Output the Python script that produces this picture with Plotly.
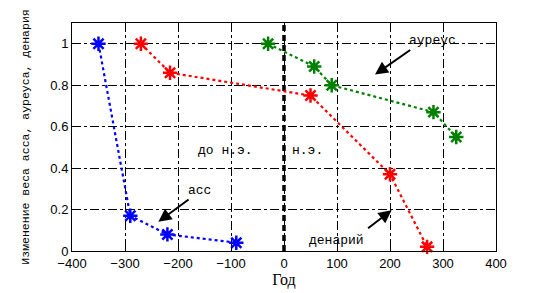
import plotly.graph_objects as go

# Data
as_years = [-350, -290, -220, -90]
as_vals = [1.0, 0.17, 0.08, 0.04]
den_years = [-270, -215, 50, 200, 270]
den_vals = [1.0, 0.86, 0.75, 0.37, 0.02]
aur_years = [-30, 57, 90, 282, 325]
aur_vals = [1.0, 0.89, 0.80, 0.67, 0.55]
era_x = [0, 0]
era_y = [0, 1.1]
x_ticks = [-400, -300, -200, -100, 0, 100, 200, 300, 400]
y_ticks = [0, 0.2, 0.4, 0.6, 0.8, 1.0]
y_ticklabels = ["0", "0.2", "0.4", "0.6", "0.8", "1"]

fig = go.Figure()

def series(x, y, color):
    fig.add_trace(go.Scatter(
        x=x, y=y, mode="lines+markers",
        line=dict(color=color, width=2.2, dash="dot"),
        marker=dict(symbol="asterisk-open", size=12, color=color,
                    line=dict(color=color, width=2.5)),
        showlegend=False, cliponaxis=False))

fig.add_trace(go.Scatter(x=era_x, y=era_y, mode="lines",
                         line=dict(color="black", width=3.5, dash="6px,4px"),
                         showlegend=False))
series(as_years, as_vals, "#0000ff")
series(den_years, den_vals, "#ff0000")
series(aur_years, aur_vals, "#008000")

txtfont = dict(family="Liberation Mono, DejaVu Sans Mono, monospace", size=13, color="black")

def arrow(x, y, ax, ay):
    fig.add_annotation(x=x, y=y, xref="x", yref="y", ax=ax, ay=ay,
                       axref="pixel", ayref="pixel", text="", showarrow=True,
                       arrowhead=2, arrowsize=1.3, arrowwidth=2, arrowcolor="black")

arrow(171.7, 0.851, 36.7, -25.7)
arrow(-237, 0.141, 31.7, -23.4)
arrow(203, 0.197, -25, 19.3)

def label(x, y, t):
    fig.add_annotation(x=x, y=y, xref="x", yref="y", text=t, showarrow=False, font=txtfont)

label(281, 1.014, "ауреус")
label(-158.5, 0.29, "асс")
label(99, 0.053, "денарий")
label(-111, 0.485, "до н.э.")
label(44, 0.485, "н.э.")

axis_common = dict(showline=True, linecolor="black", linewidth=1, mirror=True,
                   showgrid=True, gridcolor="black", gridwidth=1, griddash="dashdot",
                   zeroline=False, ticks="inside", ticklen=4, tickcolor="black",
                   automargin=False,
                   tickfont=dict(family="Liberation Sans, Arial, sans-serif", size=13, color="black"))

fig.update_xaxes(range=[-400, 400], tickvals=x_ticks, **axis_common,
                 title=dict(text="Год", font=dict(family="Liberation Serif, serif", size=16, color="black"),
                            standoff=4))
fig.update_yaxes(range=[0, 1.1], tickvals=y_ticks, ticktext=y_ticklabels, **axis_common,
                 title=dict(text="Изменение веса асса, ауреуса, денария",
                            font=dict(family="Liberation Mono, monospace", size=11.5, color="black"),
                            standoff=18))

# page body has an 8px default margin, so the figure is offset by 8px
fig.update_layout(width=541, height=285, margin=dict(l=64, r=53, t=15, b=42),
                  plot_bgcolor="white", paper_bgcolor="white")

fig.write_html("out.html")
